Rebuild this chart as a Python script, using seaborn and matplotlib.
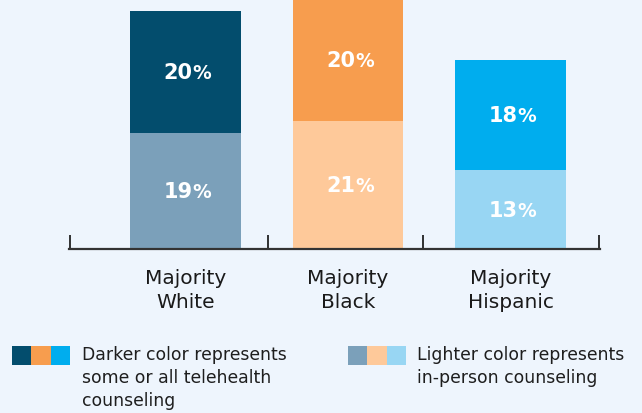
import matplotlib
matplotlib.use("Agg")
import matplotlib.pyplot as plt
import matplotlib.transforms as mtransforms
import seaborn as sns
from matplotlib.patches import Rectangle

# ---- data ----
categories = ["Majority\nWhite", "Majority\nBlack", "Majority\nHispanic"]
in_person = [19, 21, 13]
telehealth = [20, 20, 18]
dark_colors = ["#034d6d", "#f79d4e", "#00adee"]
light_colors = ["#7ba0ba", "#fec99a", "#98d6f3"]
legend_labels = ["Darker color represents\nsome or all telehealth\ncounseling",
                 "Lighter color represents\nin-person counseling"]

BG = "#eef5fd"
totals = [a + b for a, b in zip(in_person, telehealth)]

sns.set_theme(style="white")
plt.rcParams["font.family"] = ["DejaVu Sans"]

fig = plt.figure(figsize=(6.42, 4.14), dpi=100, facecolor=BG)
W, H = 642, 414
ax = fig.add_axes([69 / W, (H - 250) / H, (600 - 69) / W, 250 / H])
ax.set_facecolor(BG)

sns.barplot(x=categories, y=totals, hue=categories, palette=dark_colors,
            legend=False, width=0.68, ax=ax, saturation=1, linewidth=0)
sns.barplot(x=categories, y=in_person, hue=categories, palette=light_colors,
            legend=False, width=0.68, ax=ax, saturation=1, linewidth=0)

ax.set_ylim(0, 41)
x0, x1 = -0.717, 2.551
ax.set_xlim(x0, x1)
ax.set_yticks([])
ax.set_xlabel("")
ax.set_ylabel("")
for s in ["top", "right", "left"]:
    ax.spines[s].set_visible(False)
ax.spines["bottom"].set_color("#333333")
ax.spines["bottom"].set_linewidth(1.6)

ax.tick_params(axis="x", which="major", length=0, pad=14, labelsize=14.5,
               labelcolor="#1a1a1a")
for t in ax.get_xticklabels():
    t.set_linespacing(1.28)

# small upward divider ticks on the baseline
trans = mtransforms.blended_transform_factory(ax.transData, ax.transAxes)
for xd in [x0 + 0.004, 0.508, 1.462, x1 - 0.004]:
    ax.plot([xd, xd], [0, 14 / 250], transform=trans, color="#222222",
            lw=1.3, clip_on=False, solid_capstyle="butt")

for i in range(len(categories)):
    for val, mid in [(in_person[i], in_person[i] / 2),
                     (telehealth[i], in_person[i] + telehealth[i] / 2)]:
        ax.annotate(f"{val}", xy=(i, mid), xytext=(5, -4.5), textcoords="offset points",
                    ha="right", va="baseline", color="white", fontsize=15,
                    fontweight="bold")
        ax.annotate("%", xy=(i, mid), xytext=(5, -4.5), textcoords="offset points",
                    ha="left", va="baseline", color="white", fontsize=13.5,
                    fontweight="bold")

# ---- legend ----
def swatches(xl, colors):
    for k, c in enumerate(colors):
        fig.patches.append(Rectangle(((xl + 19.3 * k) / W, (H - 366) / H), 19.6 / W, 19 / H,
                                     transform=fig.transFigure, facecolor=c,
                                     edgecolor="none"))

swatches(12, dark_colors)
swatches(348, light_colors)
fig.text(82 / W, (H - 346) / H, legend_labels[0], ha="left", va="top",
         fontsize=12.4, color="#1e1e1e", linespacing=1.36)
fig.text(417 / W, (H - 346) / H, legend_labels[1], ha="left", va="top",
         fontsize=12.4, color="#1e1e1e", linespacing=1.36)

fig.savefig("out.png", dpi=100, facecolor=BG)
